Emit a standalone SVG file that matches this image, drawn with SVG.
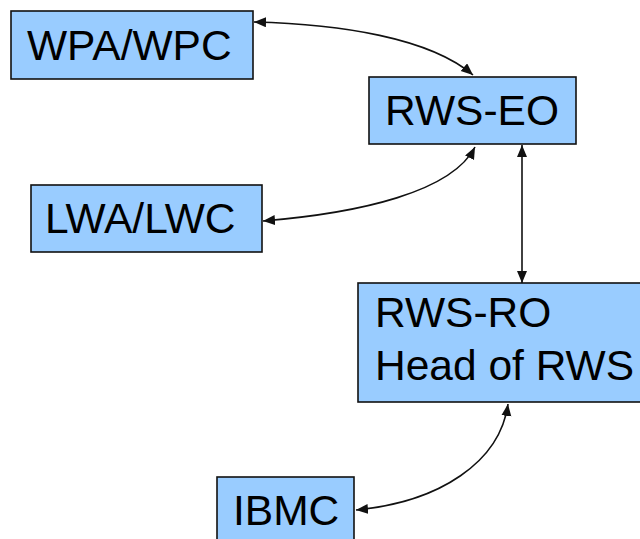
<svg xmlns="http://www.w3.org/2000/svg" width="640" height="539" viewBox="0 0 640 539">
<style>
.box{fill:#99CCFF;stroke:#111;stroke-width:1.6}
.lbl{font-family:"Liberation Sans",Arial,sans-serif;font-size:42.5px;fill:#000}
.conn{fill:none;stroke:#111;stroke-width:1.6}
</style>
<defs>
<marker id="ah" markerUnits="userSpaceOnUse" markerWidth="14" markerHeight="12" refX="12" refY="5" orient="auto-start-reverse">
<path d="M0,0 L12,5 L0,10 Z" fill="#111"/>
</marker>
</defs>
<rect width="640" height="539" fill="#fff"/>
<g id="wpa"><rect class="box" x="11" y="11" width="242" height="68"/><text class="lbl" x="27" y="60">WPA/WPC</text></g>
<g id="rwseo"><rect class="box" x="369" y="77" width="207" height="67"/><text class="lbl" x="385" y="125">RWS-EO</text></g>
<g id="lwa"><rect class="box" x="31" y="185" width="231" height="67"/><text class="lbl" x="45" y="233">LWA/LWC</text></g>
<g id="rwsro"><rect class="box" x="358" y="283" width="290" height="119"/><text class="lbl" x="375" y="327">RWS-RO</text><text class="lbl" x="375" y="380">Head of RWS</text></g>
<g id="ibmc"><rect class="box" x="217" y="477" width="137" height="70"/><text class="lbl" x="233" y="525">IBMC</text></g>
<g id="connectors">
<path class="conn" d="M254,22 C340,24 430,38 473,75" marker-start="url(#ah)" marker-end="url(#ah)"/>
<path class="conn" d="M263,221 C360,213 452,192 475,147" marker-start="url(#ah)" marker-end="url(#ah)"/>
<path class="conn" d="M522,145 L522,283" marker-start="url(#ah)" marker-end="url(#ah)"/>
<path class="conn" d="M356,510 C440,502 500,462 508,404" marker-start="url(#ah)" marker-end="url(#ah)"/>
</g>
</svg>
